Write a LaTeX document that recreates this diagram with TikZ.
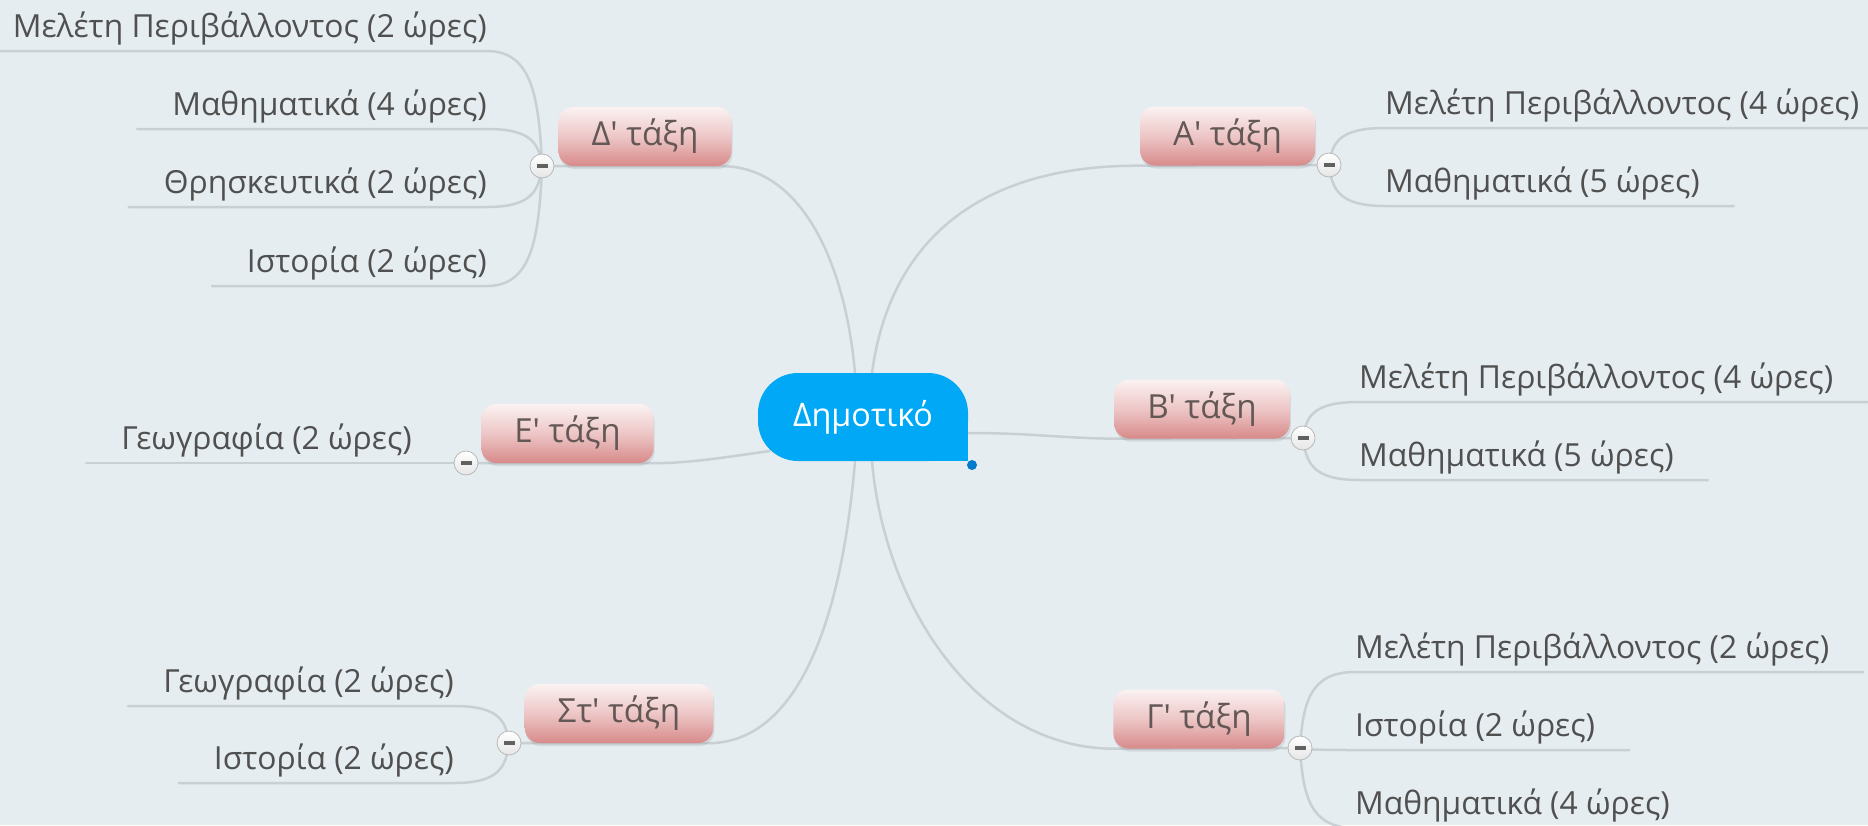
\documentclass[tikz,border=0pt]{standalone}
\usepackage{fontspec}
\newfontfamily\uifont{Open Sans}
\usetikzlibrary{calc,shadows,backgrounds}
\pgfdeclarelayer{bgfill}
\pgfsetlayers{bgfill,background,main}
\definecolor{bgc}{RGB}{229,237,241}
\definecolor{connc}{RGB}{201,208,212}
\definecolor{leaftext}{RGB}{80,80,80}
\definecolor{boxtext}{RGB}{100,88,86}
\definecolor{boxtop}{RGB}{251,242,242}
\definecolor{boxmid}{RGB}{237,198,198}
\definecolor{boxbot}{RGB}{216,138,138}
\definecolor{rootblue}{RGB}{0,168,245}
\definecolor{dotblue}{RGB}{0,122,204}
\newsavebox\measurebox
\newlength\measurelen
\AtBeginDocument{%
\sbox\measurebox{\uifont\fontsize{20}{24}\selectfont Μελέτη Περιβάλλοντος (2 ώρες)}%
\setlength\measurelen{\wd\measurebox}%
\pgfmathsetmacro\leafsize{20*474/\measurelen}%
\sbox\measurebox{\uifont\fontsize{20}{24}\selectfont Δημοτικό}%
\setlength\measurelen{\wd\measurebox}%
\pgfmathsetmacro\rootsize{20*140/\measurelen}%
\sbox\measurebox{\uifont\fontsize{20}{24}\selectfont Δ\textquotesingle\ τάξη}%
\setlength\measurelen{\wd\measurebox}%
\pgfmathsetmacro\boxsize{20*107/\measurelen}%
}
\tikzset{
  conn/.style={draw=connc, line width=2.5, line cap=round},
  leaf/.style={font=\uifont\fontsize{\leafsize}{\leafsize}\selectfont, text=leaftext, inner sep=0, text depth=13pt},
  grade/.style={rounded corners=15, top color=boxtop, bottom color=boxbot, middle color=boxmid,
    text=boxtext, font=\uifont\fontsize{\boxsize}{\boxsize}\selectfont, minimum height=59,
    inner xsep=33, inner ysep=0, drop shadow={opacity=0.18, shadow xshift=1pt, shadow yshift=-3pt}},
  rootnode/.style={fill=rootblue, rounded corners=40, minimum width=210, minimum height=88,
    inner sep=0, text=white, font=\uifont\fontsize{\rootsize}{\rootsize}\selectfont},
  minus/.style={circle, draw=black!28, line width=0.8, top color=white, bottom color=black!10,
    minimum size=24, inner sep=0,
    path picture={\fill[black!62] ($(path picture bounding box.center)+(-5.5,-1.6)$) rectangle ($(path picture bounding box.center)+(5.5,1.6)$);}},
  dotnode/.style={circle, fill=dotblue, minimum size=10, inner sep=0}
}
\newcommand\branchleft[2]{\draw[conn] (#1.center) .. controls ($(#1.center)!0.6!(#1.center |- #2.south east)+(-3,0)$) and ($(#1.center |- #2.south east)+(-10,0)$) .. (#2.south east) -- ($(#2.south west)+(-35,0)$);}
\newcommand\branchright[2]{\draw[conn] (#1.center) .. controls ($(#1.center)!0.6!(#1.center |- #2.south west)+(3,0)$) and ($(#1.center |- #2.south west)+(10,0)$) .. (#2.south west) -- ($(#2.south east)+(34,0)$);}
\begin{document}
\begin{tikzpicture}[x=1pt,y=-1pt]
\useasboundingbox (0,0) rectangle (1868,825);
\begin{pgfonlayer}{bgfill}
\fill[bgc] (0,0) rectangle (1868,825);
\end{pgfonlayer}

% root
\fill[rootblue] (928,421) rectangle (968,461);
\node[rootnode] (root) at (863,417) {Δημοτικό};
\node[dotnode] (dot) at (972,465) {};

% grade boxes
\node[grade] (bD) at (645,136.5) {Δ\textquotesingle\ τάξη};
\node[grade] (bA) at (1227.5,136) {Α\textquotesingle\ τάξη};
\node[grade] (bB) at (1202,409) {Β\textquotesingle\ τάξη};
\node[grade] (bG) at (1199,719) {Γ\textquotesingle\ τάξη};
\node[grade] (bE) at (567.5,433.5) {Ε\textquotesingle\ τάξη};
\node[grade] (bS) at (619,713.5) {Στ\textquotesingle\ τάξη};

% collapse buttons
\node[minus] (mD) at (542,166) {};
\node[minus] (mE) at (466,463) {};
\node[minus] (mS) at (509,743) {};
\node[minus] (mA) at (1329,165) {};
\node[minus] (mB) at (1303,438) {};
\node[minus] (mG) at (1300,748) {};

% leaves
\node[leaf, anchor=south east] (lD1) at (487,51) {Μελέτη Περιβάλλοντος (2 ώρες)};
\node[leaf, anchor=south east] (lD2) at (487,129) {Μαθηματικά (4 ώρες)};
\node[leaf, anchor=south east] (lD3) at (487,207) {Θρησκευτικά (2 ώρες)};
\node[leaf, anchor=south east] (lD4) at (487,286) {Ιστορία (2 ώρες)};
\node[leaf, anchor=south east] (lE1) at (412,463) {Γεωγραφία (2 ώρες)};
\node[leaf, anchor=south east] (lS1) at (454,706) {Γεωγραφία (2 ώρες)};
\node[leaf, anchor=south east] (lS2) at (454,783) {Ιστορία (2 ώρες)};
\node[leaf, anchor=south west] (lA1) at (1385,128) {Μελέτη Περιβάλλοντος (4 ώρες)};
\node[leaf, anchor=south west] (lA2) at (1385,206) {Μαθηματικά (5 ώρες)};
\node[leaf, anchor=south west] (lB1) at (1359,402) {Μελέτη Περιβάλλοντος (4 ώρες)};
\node[leaf, anchor=south west] (lB2) at (1359,480) {Μαθηματικά (5 ώρες)};
\node[leaf, anchor=south west] (lG1) at (1355,672) {Μελέτη Περιβάλλοντος (2 ώρες)};
\node[leaf, anchor=south west] (lG2) at (1355,750) {Ιστορία (2 ώρες)};
\node[leaf, anchor=south west] (lG3) at (1355,828) {Μαθηματικά (4 ώρες)};

\begin{pgfonlayer}{background}
% root to grades
\draw[conn] ($(root.north)+(-8,0)$) .. controls (845,260) and (800,166) .. ($(bD.south east)+(-10,0)$) -- (mD.center);
\draw[conn] ($(root.north)+(9,0)$) .. controls (890,240) and (980,165) .. (bA.south west) -- (mA.center);
\draw[conn] ($(root.east)+(0,16)$) .. controls (1030,433) and (1060,438) .. (bB.south west) -- (mB.center);
\draw[conn] ($(root.south)+(9,0)$) .. controls (885,610) and (980,748) .. (bG.south west) -- (mG.center);
\draw[conn] ($(root.south)+(-8,0)$) .. controls (840,640) and (790,743) .. ($(bS.south east)+(-5,0)$) -- (mS.center);
\draw[conn] ($(root.west)+(12,34)$) .. controls (720,458) and (690,463) .. (bE.south east) -- (mE.center);
% grades to leaves
\branchleft{mD}{lD1}
\branchleft{mD}{lD2}
\branchleft{mD}{lD3}
\branchleft{mD}{lD4}
\branchleft{mE}{lE1}
\branchleft{mS}{lS1}
\branchleft{mS}{lS2}
\branchright{mA}{lA1}
\branchright{mA}{lA2}
\branchright{mB}{lB1}
\branchright{mB}{lB2}
\branchright{mG}{lG1}
\branchright{mG}{lG2}
\branchright{mG}{lG3}
\end{pgfonlayer}
\end{tikzpicture}
\end{document}
